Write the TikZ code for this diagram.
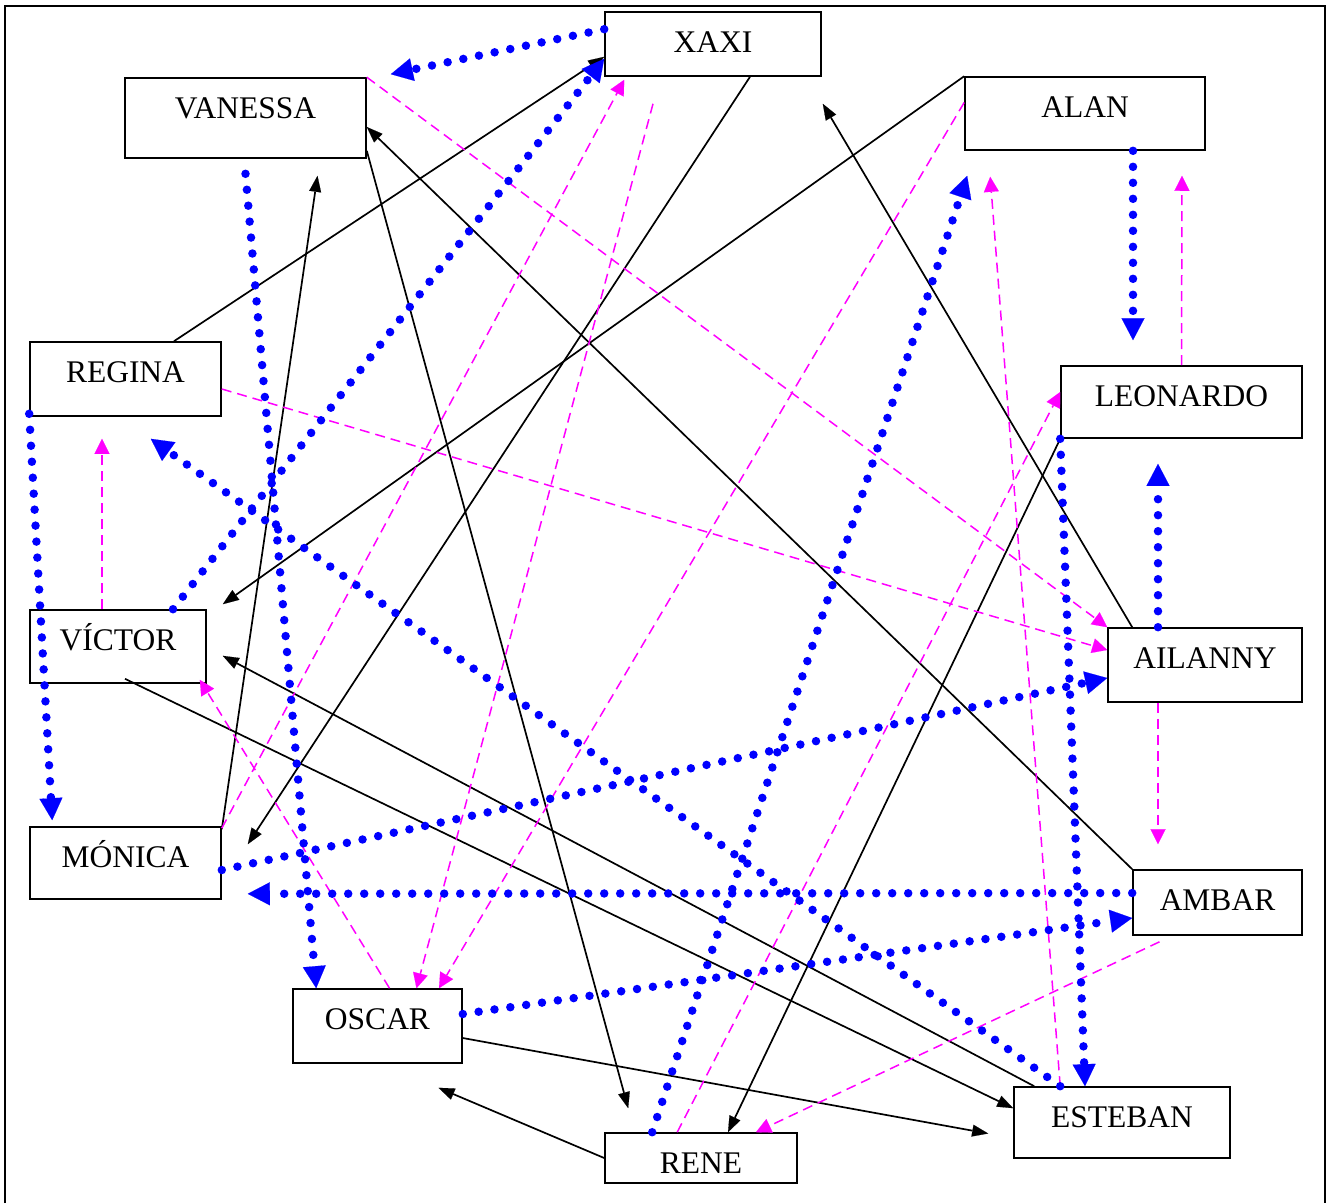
\documentclass[tikz,border=0pt]{standalone}
\usepackage{fontspec}
\setmainfont{Liberation Serif}
\usetikzlibrary{arrows.meta}
\definecolor{pinkline}{RGB}{255,0,255}
\definecolor{blueline}{RGB}{0,0,255}

\begin{document}
\begin{tikzpicture}[x=1pt, y=-1pt,
  box/.style={draw, line width=1.6pt, inner sep=0pt, anchor=base, text height=40pt, font=\fontsize{31.5}{36}\selectfont},
  tie/.style={line width=1.7pt, -{Triangle[length=16pt,width=12pt,line width=0.1pt]}},
  link/.style={blueline, line width=8.5pt, line cap=round, dash pattern=on 0pt off 16pt, -{Triangle[length=22pt,width=23pt,line width=0.1pt]}},
  hint/.style={pinkline, line width=1.5pt, dash pattern=on 10pt off 6pt, -{Triangle[length=15pt,width=15pt,line width=0.1pt]}}]
\useasboundingbox (0,0) rectangle (1328,1203);
\draw[line width=1.8pt] (5,1203) |- (1325,6) -- (1325,1203);

% people
\node[box, minimum width=216pt, text depth=24pt] (xax) at (713,52) {XAXI};
\node[box, minimum width=241pt, text depth=40pt] (van) at (245.5,118) {VANESSA};
\node[box, minimum width=240pt, text depth=33pt] (ala) at (1085,117) {ALAN};
\node[box, minimum width=191pt, text depth=34pt] (reg) at (125.5,382) {REGINA};
\node[box, minimum width=241pt, text depth=32pt] (leo) at (1181.5,406) {LEONARDO};
\node[box, minimum width=176pt, text depth=33pt] (vic) at (118,650) {VÍCTOR};
\node[box, minimum width=194pt, text depth=34pt] (ail) at (1205,668) {AILANNY};
\node[box, minimum width=191pt, text depth=32pt] (mon) at (125.5,867) {MÓNICA};
\node[box, minimum width=169pt, text depth=25pt] (amb) at (1217.5,910) {AMBAR};
\node[box, minimum width=169pt, text depth=34pt] (osc) at (377.5,1029) {OSCAR};
\node[box, minimum width=216pt, text depth=31pt] (est) at (1122,1127) {ESTEBAN};
\node[box, minimum width=192pt, text depth=10pt] (ren) at (701,1173) {RENE};

% solid
\draw[tie] ([xshift=48.5pt]reg.north) -- ([yshift=20pt]xax.south west);
\draw[tie] ([xshift=37pt]xax.south) -- ([shift={(26pt,-18pt)}]mon.north east);
\draw[tie] (ala.north west) -- ([shift={(16pt,5pt)}]vic.north east);
\draw[tie] (amb.north west) -- ([yshift=-9pt]van.east);
\draw[tie] ([yshift=8pt]van.south east) -- ([shift={(24pt,24pt)}]ren.north west);
\draw[tie] ([yshift=-3pt]mon.north east) -- ([shift={(72pt,-17pt)}]van.south);
\draw[tie] ([xshift=25pt]ail.north west) -- ([shift={(1pt,-27pt)}]xax.south east);
\draw[tie] (leo.south west) -- ([xshift=27pt]ren.north);
\draw[tie] ([shift={(7pt,5pt)}]vic.south) -- ([yshift=-22pt]est.north west);
\draw[tie] ([xshift=21pt]est.north west) -- ([shift={(16pt,28pt)}]vic.south east);
\draw[tie] ([yshift=-12pt]osc.east) -- ([shift={(-25pt,-11pt)}]est.west);
\draw[tie] (ren.west) -- ([shift={(61pt,-24pt)}]osc.south);

% dashed
\draw[hint] (van.north east) -- (ail.north west);
\draw[hint] ([yshift=-10pt]reg.east) -- ([yshift=15pt]ail.west);
\draw[hint] ([xshift=-16pt]vic.north) -- ([shift={(-23.5pt,-22pt)}]reg.south);
\draw[hint] ([xshift=12pt]osc.north) -- ([shift={(-7pt,4pt)}]vic.south east);
\draw[hint] ([yshift=-2pt]mon.north east) -- ([shift={(20pt,-3pt)}]xax.south west);
\draw[hint] ([shift={(-60pt,-27pt)}]xax.south) -- ([xshift=39pt]osc.north);
\draw[hint] ([yshift=11pt]ala.west) -- ([xshift=61.5pt]osc.north);
\draw[hint] (leo.north) -- ([shift={(97pt,-25pt)}]ala.south);
\draw[hint] ([xshift=-47pt]ail.south) -- ([shift={(-59.5pt,25pt)}]amb.north);
\draw[hint] ([shift={(-58pt,-6pt)}]amb.south) -- ([xshift=55pt]ren.north);
\draw[hint] ([xshift=47pt]est.north west) -- ([shift={(26pt,-26pt)}]ala.south west);
\draw[hint] ([xshift=73pt]ren.north west) -- ([yshift=10pt]leo.west);

% dotted
\draw[link] ([yshift=-18pt]xax.north west) -- ([shift={(24pt,3pt)}]van.north east);
\draw[link] ([xshift=55pt]vic.north) -- ([yshift=18pt]xax.south west);
\draw[link] ([yshift=-15pt]van.south) -- ([xshift=24pt]osc.north west);
\draw[link] ([yshift=3pt]reg.south west) -- ([shift={(23pt,6pt)}]mon.north west);
\draw[link] ([xshift=47pt]est.north west) -- ([shift={(-71pt,-22pt)}]reg.south east);
\draw[link] ([yshift=-7pt]mon.east) -- ([yshift=-13pt]ail.west);
\draw[link] ([yshift=9.5pt]amb.west) -- ([shift={(26pt,6pt)}]mon.south east);
\draw[link] ([yshift=12pt]osc.east) -- ([yshift=-15.5pt]amb.west);
\draw[link] ([xshift=48pt]ren.north west) -- ([shift={(3pt,-25pt)}]ala.south west);
\draw[link] ([xshift=48pt]ala.south) -- ([shift={(-48.5pt,25pt)}]leo.north);
\draw[link] ([xshift=-47pt]ail.north) -- ([shift={(-23.5pt,-25pt)}]leo.south);
\draw[link] (leo.south west) -- ([xshift=-37pt]est.north);
\end{tikzpicture}
\end{document}
